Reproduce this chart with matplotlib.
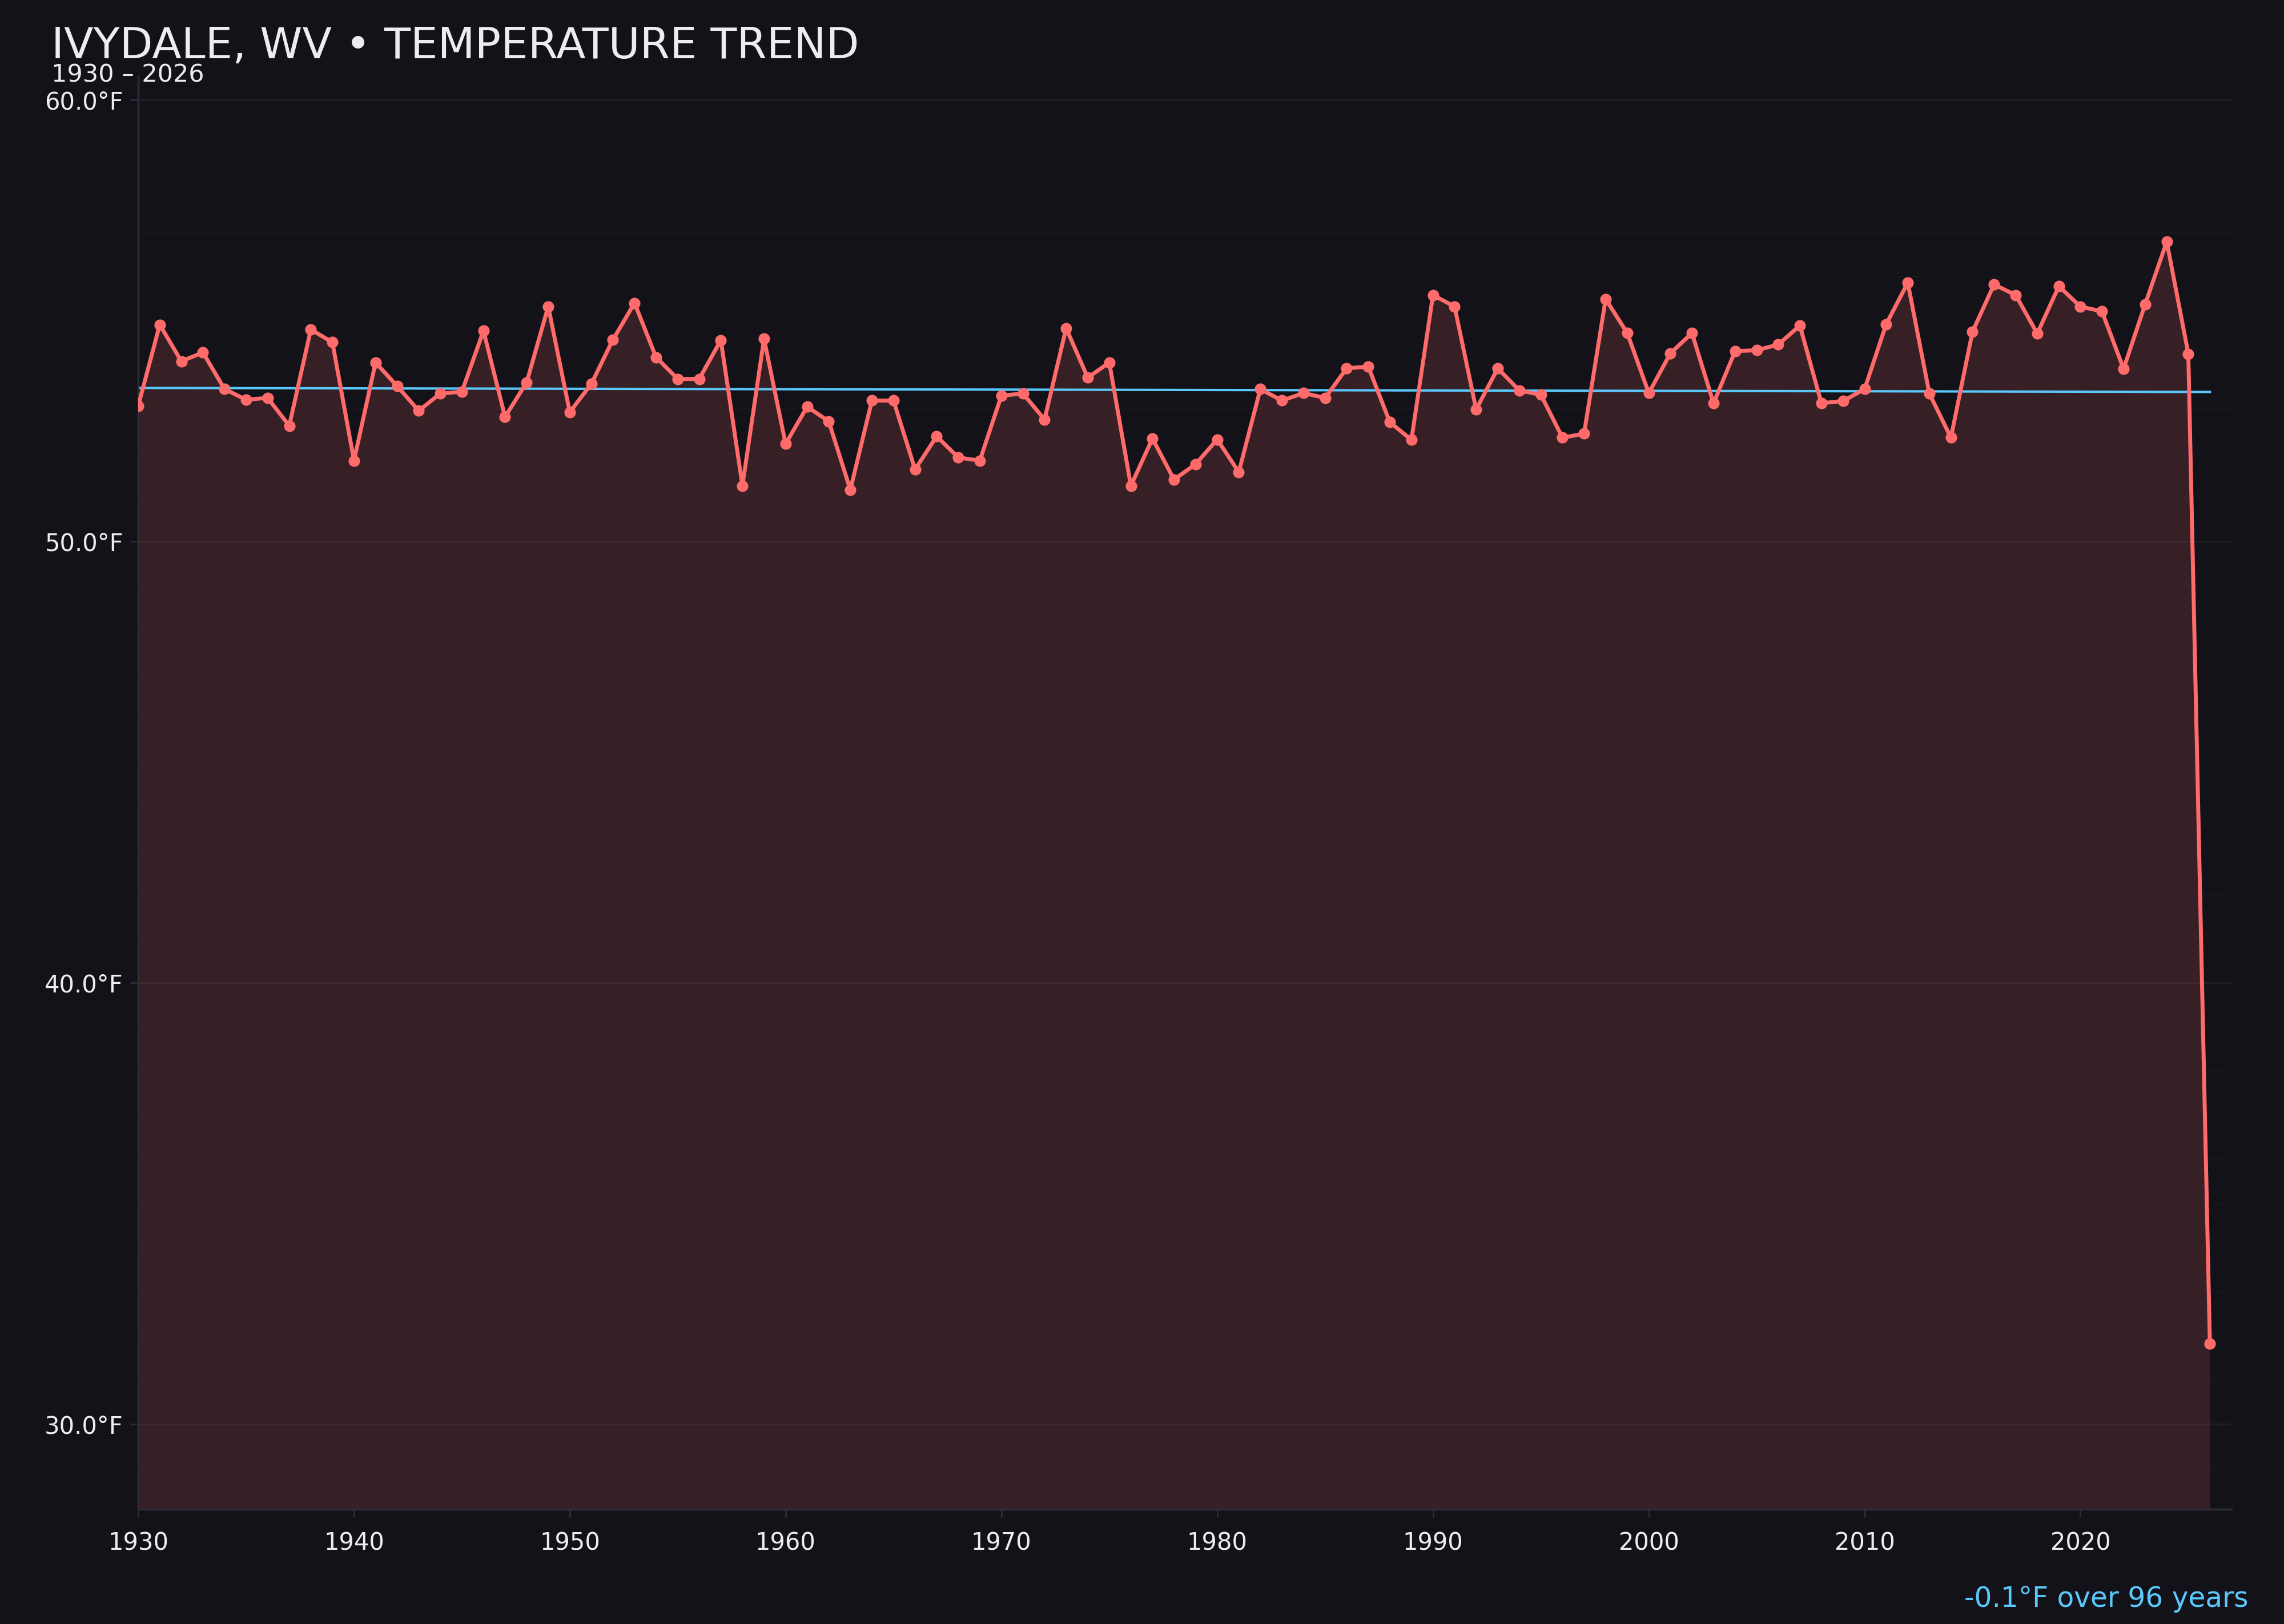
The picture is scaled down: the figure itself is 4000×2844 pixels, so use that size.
import numpy as np
import matplotlib.pyplot as plt
from matplotlib.ticker import MultipleLocator, FuncFormatter

# annual mean temperature
years = list(range(1930, 2027))
temps = [
    53.07, 54.91, 54.08, 54.28, 53.45, 53.21, 53.25, 52.62, 54.80, 54.51,  # 1930s
    51.83, 54.05, 53.52, 52.96, 53.35, 53.39, 54.77, 52.82, 53.60, 55.32,  # 1940s
    52.93, 53.57, 54.57, 55.40, 54.17, 53.68, 53.68, 54.56, 51.26, 54.59,  # 1950s
    52.21, 53.05, 52.72, 51.17, 53.19, 53.19, 51.63, 52.38, 51.90, 51.83,  # 1960s
    53.30, 53.35, 52.76, 54.83, 53.71, 54.05, 51.26, 52.33, 51.40, 51.75,  # 1970s
    52.31, 51.57, 53.45, 53.19, 53.36, 53.25, 53.92, 53.96, 52.70, 52.30,  # 1980s
    55.58, 55.32, 52.99, 53.92, 53.42, 53.32, 52.35, 52.44, 55.49, 54.72,  # 1990s
    53.36, 54.26, 54.72, 53.13, 54.31, 54.33, 54.46, 54.89, 53.13, 53.18,  # 2000s
    53.45, 54.92, 55.86, 53.35, 52.35, 54.75, 55.82, 55.58, 54.71, 55.78,  # 2010s
    55.32, 55.21, 53.91, 55.37, 56.79, 54.25, 31.82,                       # 2020s
]
x_ticks = [1930, 1940, 1950, 1960, 1970, 1980, 1990, 2000, 2010, 2020]
title = "IVYDALE, WV \u2022 TEMPERATURE TREND"
subtitle = "1930 \u2013 2026"
trend_note = "-0.1\u00b0F over 96 years"

bg = "#131219"
red = "#ff6b6b"
blue = "#5ac8fa"
txt = "#ececf2"

x = np.array(years)
y = np.array(temps)

fig = plt.figure(figsize=(16, 11.376), dpi=250, facecolor=bg)
ax = fig.add_axes([0.0605, 0.0707, 0.9165, 0.8823])
ax.set_facecolor(bg)

# limits with 15% padding on the value range
rng = y.max() - y.min()
ymin, ymax = y.min() - 0.15 * rng, y.max() + 0.15 * rng
ax.set_xlim(1930, 2027)
ax.set_ylim(ymin, ymax)

# grid: barely visible every degree, a bit stronger every 10
ax.yaxis.set_major_locator(MultipleLocator(10))
ax.yaxis.set_minor_locator(MultipleLocator(1))
ax.grid(which="major", axis="y", color="white", alpha=0.05, linewidth=1.0, zorder=0)
ax.grid(which="minor", axis="y", color="white", alpha=0.018, linewidth=0.8, zorder=0)
ax.set_axisbelow(True)

# data
ax.fill_between(x, y, ymin, color=red, alpha=0.15, linewidth=0, zorder=1)
ax.plot(x, y, color=red, linewidth=2.0, marker="o", markersize=4.8, zorder=3)

# linear trend
k, b = np.polyfit(x, y, 1)
ax.plot(x, k * x + b, color=blue, linewidth=1.2, zorder=2)

# axes styling
for side in ["top", "right"]:
    ax.spines[side].set_visible(False)
for side in ["left", "bottom"]:
    ax.spines[side].set_color("#2c2e38")
    ax.spines[side].set_linewidth(1.0)
ax.set_xticks(x_ticks)
ax.yaxis.set_major_formatter(FuncFormatter(lambda v, p: f"{v:.1f}\u00b0F"))
ax.tick_params(which="major", colors="#2c2e38", labelcolor=txt, labelsize=12, length=4)
ax.tick_params(which="minor", length=0)
ax.tick_params(axis="x", pad=7)

fig.text(0.0225, 0.9641, title, color=txt, fontsize=21.7, ha="left", va="baseline")
fig.text(0.0225, 0.9494, subtitle, color=txt, fontsize=12.4, ha="left", va="baseline")
fig.text(0.9845, 0.0105, trend_note, color=blue, fontsize=14, ha="right", va="baseline")

fig.savefig("out.png", dpi=250, facecolor=bg)
